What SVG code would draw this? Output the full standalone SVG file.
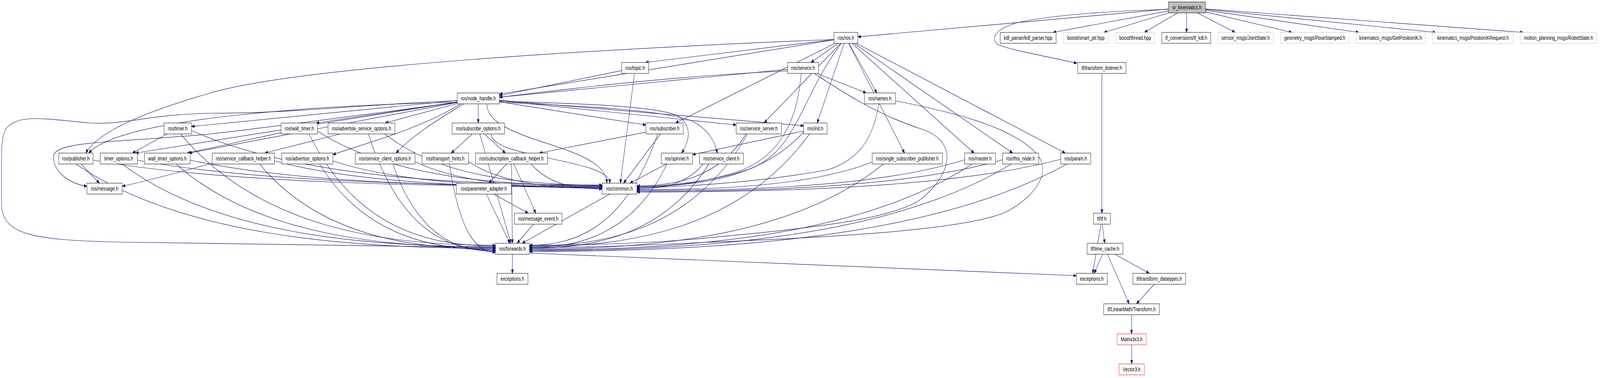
<svg xmlns="http://www.w3.org/2000/svg" width="5316" height="968" viewBox="0 0 5316 968" preserveAspectRatio="none" style="width:100vw;height:100vh">
<style>
.n rect{fill:#fff;stroke:#000;stroke-width:1}
.n text{font-family:"Liberation Sans",Arial,sans-serif;font-size:14px;text-anchor:middle;fill:#000}
.g rect{stroke:#bfbfbf}
.r rect{stroke:#ff0000}
.e path{fill:none;stroke:#191970;stroke-width:1.2;marker-end:url(#a)}
</style>
<defs>
<marker id="a" markerUnits="userSpaceOnUse" markerWidth="11" markerHeight="8" refX="10" refY="4" orient="auto"><path d="M0,0 L10,4 L0,8 z" fill="#191970" stroke="#191970"/></marker>
</defs>
<rect width="5316" height="968" fill="#fff"/>
<g id="edges" class="e">
<path d="M3882,23.2 L2850,94.3"/>
<path d="M3882,28.1 L3499,83"/>
<path d="M3883.3,33 L3668.2,83"/>
<path d="M3912.6,33 L3802.4,83"/>
<path d="M3942.5,33 L3942.5,83"/>
<path d="M3978.5,33 L4103.5,83"/>
<path d="M4005,30.3 L4292.2,83"/>
<path d="M4005,26.1 L4515,83"/>
<path d="M4005,24 L4770,83"/>
<path d="M4005,22.9 L5061,83"/>
<path d="M3882,24 C3700,28 3500,38 3380,58 C3300,75 3295,100 3313,113 C3340,125 3450,140 3578,162"/>
<path d="M2771,101.3 L2145,160"/>
<path d="M2784.7,111 L2694.3,160"/>
<path d="M2820.7,111 L2913.3,238"/>
<path d="M2771,102 L1659,241"/>
<path d="M2771,101 C2000,125 1000,170 700,238 C520,278 330,330 285,392"/>
<path d="M2774.1,111 L2244.4,315"/>
<path d="M2793,111 L2538.5,315"/>
<path d="M2804.4,111 L2715.1,315"/>
<path d="M2819.7,111 L3005.3,392"/>
<path d="M2830.7,111 L3236.3,392"/>
<path d="M2836.8,111 L3364.7,392"/>
<path d="M2845.1,111 L3539.4,392"/>
<path d="M2795,111 C2660,250 2650,380 2500,430 C2380,465 2200,478 2116,478"/>
<path d="M2066,180.7 L1659,245"/>
<path d="M2108.1,188 L2061,469"/>
<path d="M2617,177.7 L1659,249"/>
<path d="M2714.3,188 L2877.7,238"/>
<path d="M2662,188 C2650,300 2600,400 2450,440 C2330,470 2200,480 2116,480"/>
<path d="M2705,188 C2780,225 2900,290 3060,330 C3180,360 3170,440 3060,510 C2950,570 2600,590 2300,613 C2100,625 1900,628 1759,628"/>
<path d="M2617,182 C2000,200 1200,300 700,343 C400,365 180,360 178,400 C176,440 230,470 289,477"/>
<path d="M2920,266 C2900,360 2850,410 2750,435 C2500,470 2250,478 2116,482"/>
<path d="M2975,258 C3150,285 3350,320 3440,390 C3500,440 3440,500 3350,540 C3200,600 2500,615 2300,622 C2100,630 1900,634 1759,634"/>
<path d="M1519,258 C1300,262 1000,290 700,290 C500,292 420,320 300,315 C150,305 60,290 20,330 C5,350 5,380 5,420 L5,520 C5,600 100,615 400,620 C900,628 1400,632 1646,634"/>
<path d="M1519,262 C1100,268 400,300 295,392"/>
<path d="M1659,260.7 L2146,320"/>
<path d="M1659,257.8 L2446,320"/>
<path d="M1659,262 C1900,270 2200,280 2300,310 C2350,330 2375,360 2383,392"/>
<path d="M1519,257.4 L636,324"/>
<path d="M1519,261.1 L1050,315"/>
<path d="M1530,266 C1400,330 1200,370 1106,396"/>
<path d="M1519,265 L1280,315"/>
<path d="M1589,266 L1589,315"/>
<path d="M1540,266 C1470,300 1380,340 1316,392"/>
<path d="M1519,261 L450,392"/>
<path d="M1519,262.4 L628,392"/>
<path d="M1659,259 C1900,265 2200,270 2260,300 C2300,330 2290,360 2265,392"/>
<path d="M1659,256.8 L2670,322"/>
<path d="M1617.5,266 C1617.5,367 2016,367 2016,469"/>
<path d="M554.9,343 L440,392"/>
<path d="M636,334 C977,453 1523,474 2001,474"/>
<path d="M600,343 C861.5,585 1280,628 1646,628"/>
<path d="M934,339.6 L622,392"/>
<path d="M1055,336 C1291.5,455 1670,476 2001,476"/>
<path d="M1027,343 C1182,587 1429,630 1646,630"/>
<path d="M456,410 C842,466 1460,476 2001,476"/>
<path d="M406,420 C716,600 1212,632 1646,632"/>
<path d="M632,410 C974,468 1522,478 2001,478"/>
<path d="M585,420 C850,602 1275,634 1646,634"/>
<path d="M269.4,420 L330.1,469"/>
<path d="M309,410 C732,468 1409,478 2001,478"/>
<path d="M252,420 C600.5,604 1158,636 1646,636"/>
<path d="M2146,338.4 L1792,392"/>
<path d="M2194.4,343 L2072,469"/>
<path d="M2185,343 C2078.5,585 1908,628 1759,628"/>
<path d="M2479,343 C2388,456 2243,476 2116,476"/>
<path d="M2484,343 C2303,587 2013,630 1759,630"/>
<path d="M2670,335.5 L2301,396"/>
<path d="M2670,338 C2531.5,457 2310,478 2116,478"/>
<path d="M2690,343 C2457,589 2085,632 1759,632"/>
<path d="M1569.1,343 L1499.4,392"/>
<path d="M1609.1,343 L1679.4,392"/>
<path d="M1631.7,343 C1631.7,406 2026,406 2026,469"/>
<path d="M1594.2,343 L1697.3,623"/>
<path d="M1379,414 C1534.5,472 1783,482 2001,482"/>
<path d="M1305,420 C1390,610 1527,644 1646,644"/>
<path d="M912,412 C1184,470 1620,480 2001,480"/>
<path d="M863,420 C1059,605 1372,638 1646,638"/>
<path d="M705,418 C600,440 480,465 406,477"/>
<path d="M1129.6,343 L879.9,392"/>
<path d="M1279,343 C1459.5,454 1748,474 2001,474"/>
<path d="M1224,343 C1329.5,597 1498,642 1646,642"/>
<path d="M1106,412 C1330,470 1688,480 2001,480"/>
<path d="M1062,420 C1208,605 1442,640 1646,640"/>
<path d="M1557,414 C1668,472 1846,482 2001,482"/>
<path d="M1493,420 C1531,612 1592,646 1646,646"/>
<path d="M1682.8,420 L1624.2,469"/>
<path d="M1707.5,420 L1780,546"/>
<path d="M1765,420 C1824,474 1918,484 2001,484"/>
<path d="M1699.7,420 L1702.3,623"/>
<path d="M1640.3,497 L1755.2,546"/>
<path d="M1616.1,497 L1693.9,623"/>
<path d="M1772.5,574 L1718,623"/>
<path d="M2214.4,420 L2093,469"/>
<path d="M2216,420 C2102,602 1919,634 1759,634"/>
<path d="M2335.5,420 C2280.6,474 2193,484 2116,484"/>
<path d="M2355,420 C2206,604 1968,636 1759,636"/>
<path d="M2898,415 C2702.5,475 2390,486 2116,486"/>
<path d="M2935,420 C2641,605 2171,638 1759,638"/>
<path d="M3205,409 C2933,476 2497,488 2116,488"/>
<path d="M3230,420 C2862,607 2274,640 1759,640"/>
<path d="M3331,409 C3027,478 2541,490 2116,490"/>
<path d="M3360,420 C2960,609 2319,642 1759,642"/>
<path d="M3524,408 C3172,479 2609,492 2116,492"/>
<path d="M3545,420 C3098.5,611 2384,644 1759,644"/>
<path d="M2026,497 L1735,623"/>
<path d="M1702.5,651 L1702.5,700"/>
<path d="M1759,648 L3576,706"/>
<path d="M3661,188 L3661,546"/>
<path d="M3658,574 L3630.5,700"/>
<path d="M3662,574 L3670.5,623"/>
<path d="M3663.5,651 L3635.5,700"/>
<path d="M3704.2,651 L3818.8,700"/>
<path d="M3679.4,651 L3751.6,778"/>
<path d="M3835,728 L3776,778"/>
<path d="M3759.5,806 L3759.5,855"/>
<path d="M3760,883 L3760,932"/>
</g>
<g id="n-sr" class="n"><rect x="3882" y="5" width="123" height="28" style="fill:#bfbfbf"/><text x="3943.5" y="24">sr_kinematics.h</text></g>
<g id="n-ros" class="n"><rect x="2771" y="83" width="79" height="28"/><text x="2810.5" y="102">ros/ros.h</text></g>
<g id="n-kdl" class="n"><rect x="3323" y="83" width="186" height="28"/><text x="3416" y="102">kdl_parser/kdl_parser.hpp</text></g>
<g id="n-sptr" class="n g"><rect x="3532" y="83" width="152" height="28"/><text x="3608" y="102">boost/smart_ptr.hpp</text></g>
<g id="n-thr" class="n g"><rect x="3707" y="83" width="129" height="28"/><text x="3771.5" y="102">boost/thread.hpp</text></g>
<g id="n-tfkdl" class="n"><rect x="3860" y="83" width="163" height="28"/><text x="3941.5" y="102">tf_conversions/tf_kdl.h</text></g>
<g id="n-js" class="n g"><rect x="4046" y="83" width="185" height="28"/><text x="4138.5" y="102">sensor_msgs/JointState.h</text></g>
<g id="n-ps" class="n g"><rect x="4255" y="83" width="227" height="28"/><text x="4368.5" y="102">geometry_msgs/PoseStamped.h</text></g>
<g id="n-gpik" class="n g"><rect x="4505" y="83" width="231" height="28"/><text x="4620.5" y="102">kinematics_msgs/GetPositionIK.h</text></g>
<g id="n-pikr" class="n g"><rect x="4760" y="83" width="268" height="28"/><text x="4894" y="102">kinematics_msgs/PositionIKRequest.h</text></g>
<g id="n-rs" class="n g"><rect x="5051" y="83" width="254" height="28"/><text x="5178" y="102">motion_planning_msgs/RobotState.h</text></g>
<g id="n-topic" class="n"><rect x="2066" y="160" width="89" height="28"/><text x="2110.5" y="179">ros/topic.h</text></g>
<g id="n-service" class="n"><rect x="2617" y="160" width="103" height="28"/><text x="2668.5" y="179">ros/service.h</text></g>
<g id="n-tl" class="n"><rect x="3581" y="160" width="160" height="28"/><text x="3661" y="179">tf/transform_listener.h</text></g>
<g id="n-nh" class="n"><rect x="1519" y="238" width="140" height="28"/><text x="1589" y="257">ros/node_handle.h</text></g>
<g id="n-names" class="n"><rect x="2872" y="238" width="103" height="28"/><text x="2923.5" y="257">ros/names.h</text></g>
<g id="n-timer" class="n"><rect x="545" y="315" width="91" height="28"/><text x="590.5" y="334">ros/timer.h</text></g>
<g id="n-wt" class="n"><rect x="934" y="315" width="121" height="28"/><text x="994.5" y="334">ros/wall_timer.h</text></g>
<g id="n-aso" class="n"><rect x="1090" y="315" width="222" height="28"/><text x="1201" y="334">ros/advertise_service_options.h</text></g>
<g id="n-so" class="n"><rect x="1502" y="315" width="174" height="28"/><text x="1589" y="334">ros/subscribe_options.h</text></g>
<g id="n-sub" class="n"><rect x="2146" y="315" width="124" height="28"/><text x="2208" y="334">ros/subscriber.h</text></g>
<g id="n-ss" class="n"><rect x="2446" y="315" width="150" height="28"/><text x="2521" y="334">ros/service_server.h</text></g>
<g id="n-init" class="n"><rect x="2670" y="315" width="78" height="28"/><text x="2709" y="334">ros/init.h</text></g>
<g id="n-pub" class="n"><rect x="195" y="392" width="114" height="28"/><text x="252" y="411">ros/publisher.h</text></g>
<g id="n-to" class="n"><rect x="333" y="392" width="123" height="28"/><text x="394.5" y="411">timer_options.h</text></g>
<g id="n-wto" class="n"><rect x="480" y="392" width="152" height="28"/><text x="556" y="411">wall_timer_options.h</text></g>
<g id="n-sch" class="n"><rect x="705" y="392" width="207" height="28"/><text x="808.5" y="411">ros/service_callback_helper.h</text></g>
<g id="n-ao" class="n"><rect x="936" y="392" width="170" height="28"/><text x="1021" y="411">ros/advertise_options.h</text></g>
<g id="n-sco" class="n"><rect x="1180" y="392" width="199" height="28"/><text x="1279.5" y="411">ros/service_client_options.h</text></g>
<g id="n-th" class="n"><rect x="1402" y="392" width="155" height="28"/><text x="1479.5" y="411">ros/transport_hints.h</text></g>
<g id="n-subcb" class="n"><rect x="1580" y="392" width="239" height="28"/><text x="1699.5" y="411">ros/subscription_callback_helper.h</text></g>
<g id="n-spin" class="n"><rect x="2197" y="392" width="104" height="28"/><text x="2249" y="411">ros/spinner.h</text></g>
<g id="n-sc" class="n"><rect x="2324" y="392" width="146" height="28"/><text x="2397" y="411">ros/service_client.h</text></g>
<g id="n-ssp" class="n"><rect x="2898" y="392" width="233" height="28"/><text x="3014.5" y="411">ros/single_subscriber_publisher.h</text></g>
<g id="n-master" class="n"><rect x="3205" y="392" width="103" height="28"/><text x="3256.5" y="411">ros/master.h</text></g>
<g id="n-tn" class="n"><rect x="3331" y="392" width="120" height="28"/><text x="3391" y="411">ros/this_node.h</text></g>
<g id="n-param" class="n"><rect x="3524" y="392" width="100" height="28"/><text x="3574" y="411">ros/param.h</text></g>
<g id="n-msg" class="n"><rect x="289" y="469" width="117" height="28"/><text x="347.5" y="488">ros/message.h</text></g>
<g id="n-pa" class="n"><rect x="1516" y="469" width="183" height="28"/><text x="1607.5" y="488">ros/parameter_adapter.h</text></g>
<g id="n-common" class="n"><rect x="2001" y="469" width="115" height="28"/><text x="2058.5" y="488">ros/common.h</text></g>
<g id="n-me" class="n"><rect x="1709" y="546" width="158" height="28"/><text x="1788" y="565">ros/message_event.h</text></g>
<g id="n-fw" class="n"><rect x="1646" y="623" width="113" height="28"/><text x="1702.5" y="642">ros/forwards.h</text></g>
<g id="n-exL" class="n"><rect x="1651" y="700" width="103" height="28"/><text x="1702.5" y="719">exceptions.h</text></g>
<g id="n-tf" class="n"><rect x="3633" y="546" width="56" height="28"/><text x="3661" y="565">tf/tf.h</text></g>
<g id="n-tc" class="n"><rect x="3612" y="623" width="119" height="28"/><text x="3671.5" y="642">tf/time_cache.h</text></g>
<g id="n-exR" class="n"><rect x="3576" y="700" width="103" height="28"/><text x="3627.5" y="719">exceptions.h</text></g>
<g id="n-td" class="n"><rect x="3764" y="700" width="175" height="28"/><text x="3851.5" y="719">tf/transform_datatypes.h</text></g>
<g id="n-lmt" class="n"><rect x="3667" y="778" width="185" height="28"/><text x="3759.5" y="797">tf/LinearMath/Transform.h</text></g>
<g id="n-m3" class="n r"><rect x="3712" y="855" width="96" height="28"/><text x="3760" y="874">Matrix3x3.h</text></g>
<g id="n-v3" class="n r"><rect x="3718" y="932" width="84" height="28"/><text x="3760" y="951">Vector3.h</text></g>
</svg>
